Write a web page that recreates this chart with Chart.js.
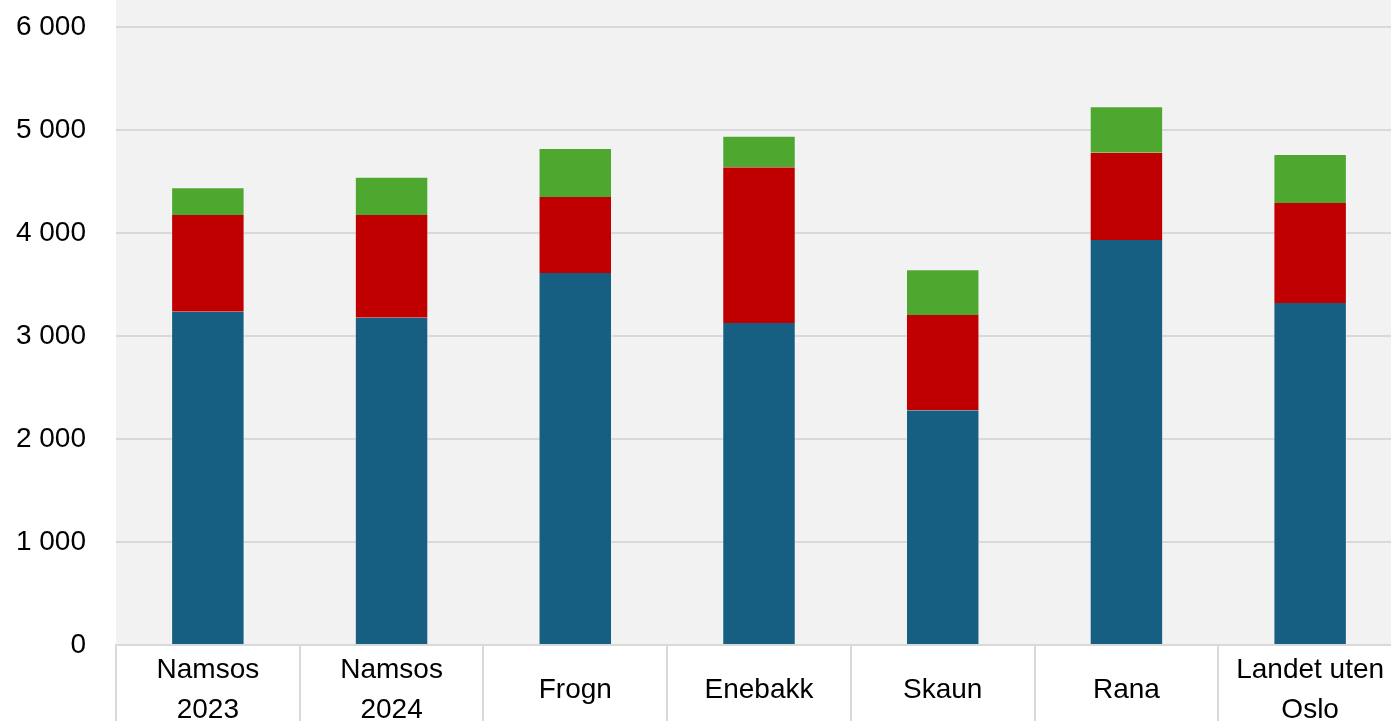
<!DOCTYPE html>
<html>
<head>
<meta charset="utf-8">
<script src="https://cdn.jsdelivr.net/npm/chart.js@4/dist/chart.umd.min.js"></script>
<style>
  html, body { margin: 0; padding: 0; background: #ffffff; overflow: hidden; }
  #wrap { position: relative; width: 1402px; height: 721px; }
</style>
</head>
<body>
<div id="wrap"><canvas id="c"></canvas></div>
<script>
const categories = [
  ['Namsos', '2023'],
  ['Namsos', '2024'],
  'Frogn',
  'Enebakk',
  'Skaun',
  'Rana',
  ['Landet uten', 'Oslo']
];
const blueValues  = [3236, 3178, 3612, 3126, 2279, 3932, 3320];
const redValues   = [939, 997, 738, 1512, 925, 848, 971];
const greenValues = [270, 372, 475, 307, 444, 450, 476];
const yTickValues = [0, 1000, 2000, 3000, 4000, 5000, 6000];

function fmt(v) { return String(v).replace(/\B(?=(\d{3})+(?!\d))/g, ' '); }

const plotBg = {
  id: 'plotBg',
  beforeDraw(chart) {
    const { ctx, chartArea } = chart;
    ctx.save();
    ctx.fillStyle = '#f2f2f2';
    ctx.fillRect(chartArea.left, 0, chartArea.right - chartArea.left, chartArea.bottom);
    ctx.restore();
  }
};

const edge = 'rgba(255,255,255,0.35)';
new Chart(document.getElementById('c'), {
  type: 'bar',
  data: {
    labels: categories,
    datasets: [
      { data: blueValues, backgroundColor: '#175f82', borderColor: edge, borderWidth: {left: 1, right: 1, top: 0, bottom: 0}, borderSkipped: false },
      { data: redValues, backgroundColor: '#c00000', borderColor: edge, borderWidth: {left: 1, right: 1, top: 0, bottom: 0}, borderSkipped: false },
      { data: greenValues, backgroundColor: '#4ea72e', borderColor: edge, borderWidth: {left: 1, right: 1, top: 1, bottom: 0}, borderSkipped: false }
    ]
  },
  options: {
    responsive: true,
    maintainAspectRatio: false,
    animation: false,
    layout: { padding: { top: 27, left: 0, right: 0, bottom: 0 } },
    plugins: { legend: { display: false }, tooltip: { enabled: false } },
    datasets: { bar: { barPercentage: 0.4, categoryPercentage: 1.0 } },
    scales: {
      x: {
        stacked: true,
        offset: true,
        grid: { offset: true, drawOnChartArea: false, drawTicks: true, tickLength: 80, color: '#d9d9d9', lineWidth: 2 },
        border: { display: true, color: '#d9d9d9', width: 2 },
        ticks: {
          color: '#000000',
          font: { family: '"Liberation Sans", Arial, sans-serif', size: 28, lineHeight: 40/28 },
          padding: -55,
          crossAlign: 'center',
          maxRotation: 0,
          autoSkip: false
        },
        afterFit(scale) { scale.height = 76; scale.paddingLeft = 0; scale.paddingRight = 0; scale.paddingTop = 0; scale.paddingBottom = 0; }
      },
      y: {
        stacked: true,
        min: 0,
        max: 6000,
        afterBuildTicks(scale) { scale.ticks = yTickValues.map(v => ({ value: v })); },
        grid: { drawTicks: false, color: '#d9d9d9', lineWidth: 2 },
        border: { display: false },
        ticks: {
          color: '#000000',
          font: { family: '"Liberation Sans", Arial, sans-serif', size: 28 },
          padding: 30,
          callback: (v) => fmt(v)
        },
        afterFit(scale) { scale.width = 116; scale.paddingTop = 0; scale.paddingBottom = 0; scale.paddingLeft = 0; scale.paddingRight = 0; }
      }
    }
  },
  plugins: [plotBg]
});
</script>
</body>
</html>
